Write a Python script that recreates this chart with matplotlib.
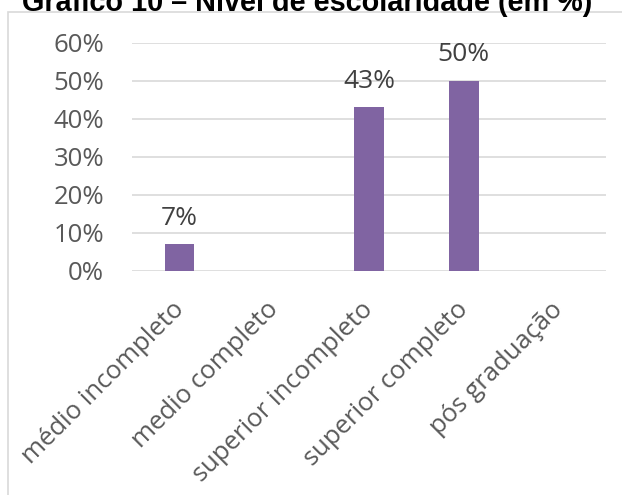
import matplotlib.pyplot as plt
import matplotlib.transforms as mtransforms
from matplotlib.patches import Rectangle

# Données
categories = ["médio incompleto", "medio completo", "superior incompleto",
              "superior completo", "pós graduação"]
valeurs = [0.07, 0.0, 0.43, 0.50, 0.0]
etiquettes = ["7%", "", "43%", "50%", ""]
graduations = [0, 0.1, 0.2, 0.3, 0.4, 0.5, 0.6]
noms_graduations = ["0%", "10%", "20%", "30%", "40%", "50%", "60%"]

plt.rcParams['font.family'] = ['Open Sans', 'DejaVu Sans']

fig = plt.figure(figsize=(6.22, 4.95), dpi=100)
ax = fig.add_axes([0.2122, 0.4531, 0.7621, 0.4606])

# cadre du graphique
fig.patches.append(Rectangle((8 / 622, -0.01), 1.0, 1 - 12 / 495 + 0.01,
                             transform=fig.transFigure, fill=False,
                             edgecolor='#D9D9D9', linewidth=1.2))

x = list(range(len(categories)))
barres = ax.bar(x, valeurs, width=0.31, color='#8064A2', zorder=3)

for b, txt in zip(barres, etiquettes):
    if txt:
        ax.annotate(txt, (b.get_x() + b.get_width() / 2, b.get_height()),
                    xytext=(0, 14), textcoords='offset points',
                    ha='center', va='baseline', fontsize=19, color='#404040')

ax.set_xlim(-0.5, len(categories) - 0.5)
ax.set_ylim(0, 0.6)
ax.set_yticks(graduations)
ax.set_yticklabels(noms_graduations, fontsize=18.5, color='#595959')
ax.set_xticks(x)
ax.set_xticklabels(categories, rotation=45, ha='right', rotation_mode='anchor',
                   fontsize=18.5, color='#595959')
ax.tick_params(axis='both', length=0)
ax.tick_params(axis='y', pad=20)
ax.tick_params(axis='x', pad=19)
decalage = mtransforms.ScaledTranslation(-0.08, 0, fig.dpi_scale_trans)
for lab in ax.get_xticklabels():
    lab.set_transform(lab.get_transform() + decalage)
ax.grid(axis='y', color='#D9D9D9', linewidth=1.2, zorder=0)
for s in ax.spines.values():
    s.set_visible(False)

fig.text(0.494, 1 - 11 / 495, "Gráfico 10 – Nível de escolaridade (em %)",
         ha='center', va='baseline', fontsize=20.8, fontweight='bold',
         family=['Liberation Sans', 'DejaVu Sans'], color='black')

fig.savefig('out.png', dpi=100)
